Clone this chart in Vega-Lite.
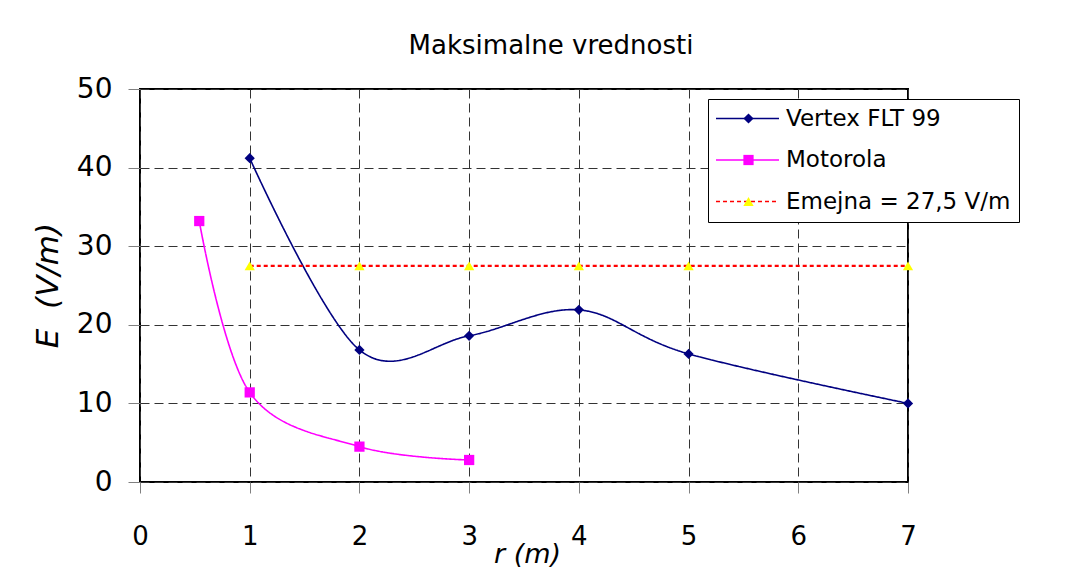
{
  "$schema": "https://vega.github.io/schema/vega-lite/v6.json",
  "width": 768,
  "height": 393,
  "autosize": {"type": "none"},
  "padding": {"left": 140, "top": 89, "right": 170, "bottom": 89},
  "background": "white",
  "title": {
    "text": "Maksimalne vrednosti",
    "anchor": "middle",
    "frame": "group",
    "dx": 27,
    "offset": 16,
    "font": "DejaVu Sans",
    "fontSize": 26,
    "fontWeight": "normal",
    "color": "black"
  },
  "config": {
    "font": "DejaVu Sans",
    "view": {"stroke": "black", "strokeWidth": 2},
    "axis": {
      "labelFont": "DejaVu Sans",
      "labelColor": "black",
      "titleFont": "DejaVu Sans",
      "titleColor": "black",
      "titleFontWeight": "normal",
      "titleFontStyle": "italic",
      "domain": false,
      "tickColor": "#808080",
      "tickWidth": 1,
      "grid": true,
      "gridColor": "#333333",
      "gridDash": [9, 5],
      "gridWidth": 1,
      "gridOpacity": 1
    },
    "legend": {
      "labelFont": "DejaVu Sans",
      "labelColor": "black",
      "labelFontSize": 23,
      "labelLimit": 400,
      "rowPadding": 17.5,
      "padding": 8
    }
  },
  "data": {
    "values": [
      {"serija": "Vertex FLT 99", "r": 1, "E": 41.2},
      {"serija": "Vertex FLT 99", "r": 2, "E": 16.8},
      {"serija": "Vertex FLT 99", "r": 3, "E": 18.6},
      {"serija": "Vertex FLT 99", "r": 4, "E": 21.9},
      {"serija": "Vertex FLT 99", "r": 5, "E": 16.3},
      {"serija": "Vertex FLT 99", "r": 7, "E": 10.0},
      {"serija": "Motorola", "r": 0.54, "E": 33.2},
      {"serija": "Motorola", "r": 1, "E": 11.4},
      {"serija": "Motorola", "r": 2, "E": 4.5},
      {"serija": "Motorola", "r": 3, "E": 2.8},
      {"serija": "Emejna = 27,5 V/m", "r": 1, "E": 27.5},
      {"serija": "Emejna = 27,5 V/m", "r": 2, "E": 27.5},
      {"serija": "Emejna = 27,5 V/m", "r": 3, "E": 27.5},
      {"serija": "Emejna = 27,5 V/m", "r": 4, "E": 27.5},
      {"serija": "Emejna = 27,5 V/m", "r": 5, "E": 27.5},
      {"serija": "Emejna = 27,5 V/m", "r": 7, "E": 27.5}
    ]
  },
  "encoding": {
    "x": {
      "field": "r",
      "type": "quantitative",
      "scale": {"domain": [0, 7], "nice": false, "zero": false},
      "axis": {
        "title": "r (m)",
        "values": [0, 1, 2, 3, 4, 5, 6, 7],
        "format": "d",
        "labelFontSize": 26,
        "labelFlush": false,
        "tickSize": 11,
        "labelPadding": 30,
        "titleFontSize": 27,
        "titleX": 387,
        "titleY": 80,
        "titleAlign": "center",
        "titleBaseline": "alphabetic"
      }
    },
    "y": {
      "field": "E",
      "type": "quantitative",
      "scale": {"domain": [0, 50], "nice": false},
      "axis": {
        "title": "E\u00a0 (V/m)",
        "values": [0, 10, 20, 30, 40, 50],
        "labelFontSize": 28,
        "tickSize": 12,
        "labelPadding": 16,
        "titleFontSize": 31,
        "titleX": -83,
        "titleY": 196,
        "titleAngle": 270,
        "titleAlign": "center",
        "titleBaseline": "alphabetic"
      }
    }
  },
  "layer": [
    {
      "transform": [{"filter": "datum.serija !== 'Emejna = 27,5 V/m'"}],
      "mark": {"type": "line", "interpolate": "cardinal", "tension": 0, "strokeWidth": 1.6},
      "encoding": {
        "stroke": {
          "field": "serija",
          "type": "nominal",
          "scale": {
            "domain": ["Vertex FLT 99", "Motorola", "Emejna = 27,5 V/m"],
            "range": ["#000080", "#FF00FF", "#FF0000"]
          },
          "legend": {
            "title": null,
            "orient": "none",
            "legendX": 568,
            "legendY": 10,
            "symbolType": "M-7,0H7",
            "symbolSize": 81,
            "symbolStrokeWidth": 1.6,
            "symbolOffset": 20,
            "labelOffset": 27,
            "strokeColor": "black",
            "fillColor": "white"
          }
        },
        "strokeDash": {
          "field": "serija",
          "type": "nominal",
          "scale": {
            "domain": ["Vertex FLT 99", "Motorola", "Emejna = 27,5 V/m"],
            "range": [[1, 0], [1, 0], [4, 3]]
          },
          "legend": {
            "title": null,
            "orient": "none",
            "legendX": 568,
            "legendY": 10,
            "symbolType": "M-7,0H7",
            "symbolSize": 81,
            "symbolStrokeWidth": 1.6,
            "symbolOffset": 20,
            "labelOffset": 27,
            "strokeColor": "black",
            "fillColor": "white"
          }
        }
      }
    },
    {
      "transform": [{"filter": "datum.serija === 'Emejna = 27,5 V/m'"}],
      "mark": {"type": "line", "interpolate": "linear", "strokeWidth": 2.2},
      "encoding": {
        "stroke": {"field": "serija", "type": "nominal"},
        "strokeDash": {"field": "serija", "type": "nominal"}
      }
    },
    {
      "mark": {"type": "point", "filled": true, "opacity": 1, "size": 105, "strokeWidth": 0},
      "encoding": {
        "color": {
          "field": "serija",
          "type": "nominal",
          "sort": "descending",
          "scale": {"range": ["#000080", "#FF00FF", "#FFFF00"]},
          "legend": {
            "title": null,
            "orient": "none",
            "legendX": 589,
            "legendY": 10,
            "symbolSize": 105,
            "symbolStrokeWidth": 0,
            "symbolOpacity": 1,
            "labelExpr": "' '",
            "labelColor": "transparent"
          }
        },
        "shape": {
          "field": "serija",
          "type": "nominal",
          "sort": "descending",
          "scale": {"range": ["diamond", "square", "triangle-up"]},
          "legend": {
            "title": null,
            "orient": "none",
            "legendX": 589,
            "legendY": 10,
            "symbolSize": 105,
            "symbolStrokeWidth": 0,
            "symbolOpacity": 1,
            "labelExpr": "' '",
            "labelColor": "transparent"
          }
        }
      }
    }
  ]
}
